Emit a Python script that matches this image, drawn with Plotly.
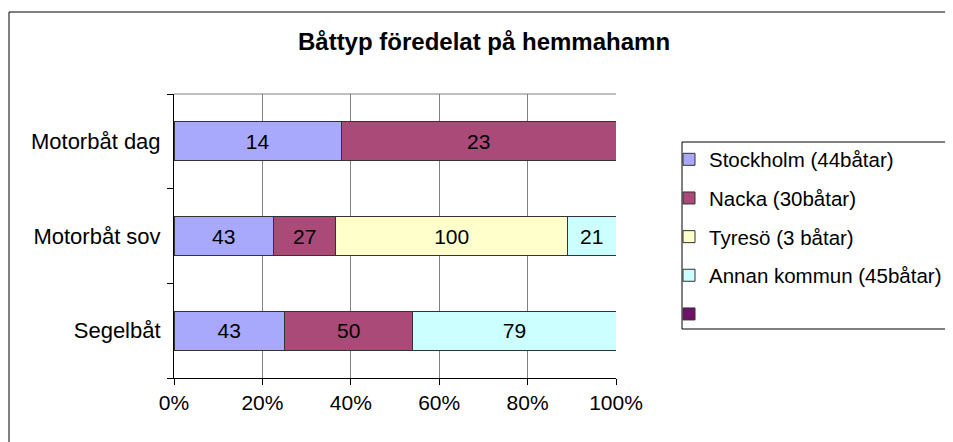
import plotly.graph_objects as go

categories = ["Motorbåt dag", "Motorbåt sov", "Segelbåt"]
series_names = ["Stockholm (44båtar)", "Nacka (30båtar)", "Tyresö (3 båtar)", "Annan kommun (45båtar)", " "]
stockholm = [14, 43, 43]
nacka = [23, 27, 50]
tyreso = [None, 100, None]
annan = [None, 21, 79]
extra = [None, None, None]
x_ticks = [0, 20, 40, 60, 80, 100]
x_tick_labels = ["0%", "20%", "40%", "60%", "80%", "100%"]
title_text = "Båttyp föredelat på hemmahamn"

colors = ["#A8A9FD", "#A94A78", "#FFFFCC", "#CCFFFF", "#6E1468"]
FONT = "Arial, 'Liberation Sans', sans-serif"
FS = 21

# page has an 8px body margin: figure coordinates = screen - 8
W, H = 953, 442
L, R, T, B = 166, 345, 86, 72
PW = W - L - R
PH = H - T - B

def px(xs):
    return (xs - 8 - L) / PW

def py(ys):
    return 1 - (ys - 8 - T) / PH

fig = go.Figure()
for i, (name, vals) in enumerate(zip(series_names, [stockholm, nacka, tyreso, annan, extra])):
    fig.add_trace(go.Bar(
        y=categories, x=vals, name=name, orientation="h",
        marker=dict(color=colors[i], line=dict(color="#333333", width=1)),
        text=[("" if v is None else str(v)) for v in vals],
        texttemplate="%{text}", textposition="inside", insidetextanchor="middle",
        textangle=0, textfont=dict(color="black", size=FS, family=FONT),
        legendgroup="g%d" % i, hoverinfo="skip",
    ))

fig.update_layout(
    width=W, height=H,
    barmode="stack", barnorm="percent", bargap=0.59,
    margin=dict(l=L, r=R, t=T, b=B),
    paper_bgcolor="white", plot_bgcolor="white",
    font=dict(family=FONT, size=FS, color="black"),
    title=dict(text="<b>" + title_text + "</b>", x=(484 - 8) / W, xref="container", xanchor="center",
               y=1 - (42 - 8) / H, yref="container", yanchor="middle",
               font=dict(size=24, family=FONT, color="black")),
    showlegend=True,
    legend=dict(xref="container", yref="container",
                x=(669 - 8) / W, xanchor="left", y=1 - (139.5 - 8) / H, yanchor="top",
                bgcolor="rgba(0,0,0,0)", borderwidth=0, tracegroupgap=9,
                font=dict(size=20.5, family=FONT, color="black")),
    uniformtext=dict(mode="show", minsize=10),
)
fig.update_xaxes(range=[0, 100], tickvals=x_ticks, ticktext=x_tick_labels,
                 showgrid=True, gridcolor="#808080", gridwidth=1,
                 showline=True, linecolor="black", linewidth=1,
                 ticks="outside", ticklen=6, tickcolor="black", zeroline=False,
                 tickfont=dict(size=FS, family=FONT, color="black"))
fig.update_yaxes(categoryorder="array", categoryarray=categories[::-1],
                 showline=True, linecolor="black", linewidth=1,
                 ticks="outside", tickson="boundaries", ticklen=6, tickcolor="black",
                 showgrid=False, ticklabelstandoff=8,
                 tickfont=dict(size=22, family=FONT, color="black"))

# top gray plot edge, outer chart frame, legend box (open to the right)
frame_line = dict(color="black", width=1)
fig.add_shape(type="line", xref="paper", yref="paper", x0=0, x1=1, y0=1, y1=1,
              line=dict(color="#808080", width=1))
fig.add_shape(type="line", xref="paper", yref="paper", x0=px(9), x1=px(9),
              y0=-0.5, y1=py(12), line=frame_line)
fig.add_shape(type="line", xref="paper", yref="paper", x0=px(9), x1=px(970),
              y0=py(12), y1=py(12), line=frame_line)
fig.add_shape(type="line", xref="paper", yref="paper", x0=px(682), x1=px(682),
              y0=py(329), y1=py(142), line=frame_line)
fig.add_shape(type="line", xref="paper", yref="paper", x0=px(682), x1=px(970),
              y0=py(142), y1=py(142), line=frame_line)
fig.add_shape(type="line", xref="paper", yref="paper", x0=px(682), x1=px(970),
              y0=py(329), y1=py(329), line=frame_line)

fig.write_html("out.html")
